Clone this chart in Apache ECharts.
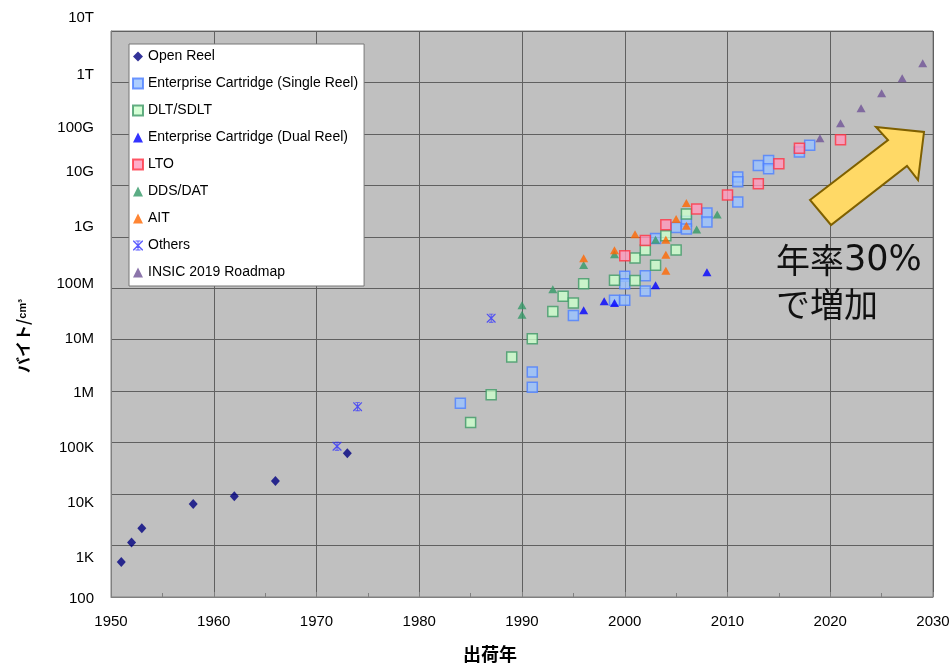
<!DOCTYPE html>
<html><head><meta charset="utf-8">
<script src="https://cdn.jsdelivr.net/npm/echarts@6/dist/echarts.min.js"></script>
<style>html,body{margin:0;padding:0;background:#fff;overflow:hidden}#c{width:952px;height:666px}</style>
</head><body><div id="c"></div>
<script>
// ---- data ----
const yTickLabels = ['100','1K','10K','100K','1M','10M','100M','1G','10G','100G','1T','10T'];
const xAxisTitle = '出荷年';
const yAxisTitle = 'バイト/';
const yAxisUnit = 'cm³';
const seriesNames = ['Open Reel','Enterprise Cartridge (Single Reel)','DLT/SDLT','Enterprise Cartridge (Dual Reel)','LTO','DDS/DAT','AIT','Others','INSIC 2019 Roadmap'];

const openReelYears = [1951,1952,1953,1958,1962,1966,1973];
const openReelValues = [480,1150,2180,6400,9100,18000,62000];

const singleReelYears = [1984,1991,1991,1995,1999,2000,2000,2000,2002,2002,2003,2005,2006,2006,2008,2008,2011,2011,2011,2013,2014,2014,2017,2018];
const singleReelValues = [5.8e5,2.35e6,1.19e6,2.95e7,5.85e7,1.71e8,1.22e8,5.85e7,1.76e8,8.9e7,9.3e8,1.52e9,2.0e9,1.42e9,2.9e9,1.94e9,1.45e10,1.17e10,4.74e9,2.43e10,3.04e10,2.1e10,4.43e10,6.0e10];

const dltYears = [1985,1987,1989,1991,1993,1994,1995,1996,1999,2001,2001,2002,2003,2004,2005,2006];
const dltValues = [2.45e5,8.55e5,4.6e6,1.04e7,3.53e7,7.0e7,5.2e7,1.23e8,1.43e8,3.89e8,1.41e8,5.56e8,2.79e8,1.05e9,5.56e8,2.77e9];

const dualReelYears = [1996,1998,1999,2003,2008];
const dualReelValues = [3.74e7,5.6e7,5.2e7,1.14e8,2.04e8];

const ltoYears = [2000,2002,2004,2007,2010,2013,2015,2017,2021];
const ltoValues = [4.3e8,8.5e8,1.72e9,3.47e9,6.5e9,1.07e10,2.62e10,5.25e10,7.7e10];

const ddsYears = [1990,1990,1993,1996,1999,2003,2007,2009];
const ddsValues = [4.68e7,3.05e7,9.6e7,2.84e8,4.6e8,8.8e8,1.38e9,2.73e9];

const aitYears = [1996,1999,2001,2004,2004,2004,2005,2006,2006];
const aitValues = [3.82e8,5.5e8,1.12e9,8.8e8,4.5e8,2.2e8,2.22e9,4.54e9,1.64e9];

const othersYears = [1972,1974,1987];
const othersValues = [85000,500000,2.62e7];

const insicYears = [2019,2021,2023,2025,2027,2029];
const insicValues = [8.2e10,1.61e11,3.16e11,6.17e11,1.21e12,2.36e12];

const annotationA = '年率';
const annotationB = '30%';
const annotationLine2 = 'で増加';

// ---- styling / build ----
const pts = (xs, vs) => xs.map((x, i) => [x, Math.log10(vs[i])]);
const labelShift = [2,12,9,5,2,-1,-4,-10,-14,-6,-8,-13];
const rich = {};
labelShift.forEach((d, i) => {
  rich['s' + i] = {
    fontFamily: 'Liberation Sans', fontSize: 15, color: '#000',
    padding: d < 0 ? [0, 0, -2 * d, 0] : [2 * d, 0, 0, 0]
  };
});
const starPath = 'path://M0,0L2,0L10,8L18,0L20,0L20,2L12,10L20,18L20,20L18,20L10,12L2,20L0,20L0,18L8,10L0,2Z M9,0L11,0L11,20L9,20Z M5,0L15,0L15,2L5,2Z M5,18L15,18L15,20L5,20Z';

function sq(name, xs, vs, fill, border) {
  return { name, type: 'scatter', data: pts(xs, vs), symbol: 'rect', symbolSize: 10,
    itemStyle: { color: fill, borderColor: border, borderWidth: 1.5 } };
}
function tri(name, xs, vs, color) {
  return { name, type: 'scatter', data: pts(xs, vs), symbol: 'triangle', symbolSize: [9, 8],
    itemStyle: { color } };
}

const chart = echarts.init(document.getElementById('c'));
chart.setOption({
  animation: false,
  backgroundColor: '#fff',
  grid: { left: 111, right: 19, top: 31, bottom: 69, outerBoundsMode: 'none', containLabel: false, show: true, backgroundColor: '#c0c0c0', borderColor: '#808080', borderWidth: 1 },
  legend: {
    orient: 'vertical', left: 129, top: 44,
    data: seriesNames,
    backgroundColor: '#fff', borderColor: '#777', borderWidth: 1,
    padding: [5, 6, 6, 3], itemGap: 12, itemWidth: 10, itemHeight: 10,
    textStyle: { fontFamily: 'Liberation Sans', fontSize: 14, color: '#000', lineHeight: 15 }
  },
  xAxis: {
    type: 'value', min: 1950, max: 2030, interval: 10,
    name: xAxisTitle, nameLocation: 'middle', nameGap: 48,
    nameTextStyle: { fontFamily: 'Noto Sans CJK JP', fontWeight: 'bold', fontSize: 18, color: '#000', padding: [0, 64, 0, 0] },
    axisLine: { show: true, lineStyle: { color: '#808080' } },
    axisTick: { show: true, inside: true, length: 5, lineStyle: { color: '#808080' } },
    minorTick: { show: true, splitNumber: 2, length: 4, lineStyle: { color: '#808080' } },
    axisLabel: { margin: 17, fontFamily: 'Liberation Sans', fontSize: 15, color: '#000', formatter: v => String(v) },
    splitLine: { show: true, lineStyle: { color: '#606060', width: 1 } }
  },
  yAxis: {
    type: 'value', min: 2, max: 13, interval: 1,
    name: '{a|' + yAxisTitle + '}{b|' + yAxisUnit + '}', nameLocation: 'middle', nameGap: 80, nameRotate: 90,
    nameTextStyle: { padding: [0, 44, 0, 0], rich: {
      a: { fontFamily: 'Noto Sans CJK JP', fontWeight: 'bold', fontSize: 16, color: '#000' },
      b: { fontFamily: 'Liberation Sans', fontWeight: 'bold', fontSize: 11, color: '#000' } } },
    axisLine: { show: true, lineStyle: { color: '#808080' } },
    axisTick: { show: false },
    axisLabel: { margin: 17, formatter: v => { const i = Math.round(v) - 2; return '{s' + i + '|' + yTickLabels[i] + '}'; }, rich },
    splitLine: { show: true, lineStyle: { color: '#606060', width: 1 } }
  },
  series: [
    { name: seriesNames[0], type: 'scatter', data: pts(openReelYears, openReelValues), symbol: 'diamond', symbolSize: [9, 10], itemStyle: { color: '#000080' } },
    sq(seriesNames[1], singleReelYears, singleReelValues, '#99c2ff', '#4d7fff'),
    sq(seriesNames[2], dltYears, dltValues, '#ccffcc', '#3f9966'),
    tri(seriesNames[3], dualReelYears, dualReelValues, '#0000ff'),
    sq(seriesNames[4], ltoYears, ltoValues, '#ff99bb', '#ff3344'),
    tri(seriesNames[5], ddsYears, ddsValues, '#339966'),
    tri(seriesNames[6], aitYears, aitValues, '#ff6600'),
    { name: seriesNames[7], type: 'scatter', data: pts(othersYears, othersValues), symbol: starPath, symbolSize: 9, itemStyle: { color: '#3333ff' } },
    tri(seriesNames[8], insicYears, insicValues, '#6f5296')
  ],
  graphic: [
    { type: 'polygon', z: 100, shape: { points: [[810,200],[888,140],[876,127],[924,132],[918,180],[907,166],[831,225]] },
      style: { fill: '#ffd966', stroke: '#7f6000', lineWidth: 2 } },
    { type: 'text', z: 100, left: 776, top: 243, style: { text: '{a|' + annotationA + '}{b|' + annotationB + '}', fill: '#111', rich: {
      a: { fontFamily: 'Noto Sans CJK JP', fontSize: 34, fill: '#111', height: 40, verticalAlign: 'middle' },
      b: { fontFamily: 'DejaVu Sans', fontSize: 35, fill: '#111', height: 40, verticalAlign: 'middle' } } } },
    { type: 'text', z: 100, left: 776, top: 287, style: { text: annotationLine2, font: '34px "Noto Sans CJK JP"', fill: '#111' } }
  ]
});
</script></body></html>
